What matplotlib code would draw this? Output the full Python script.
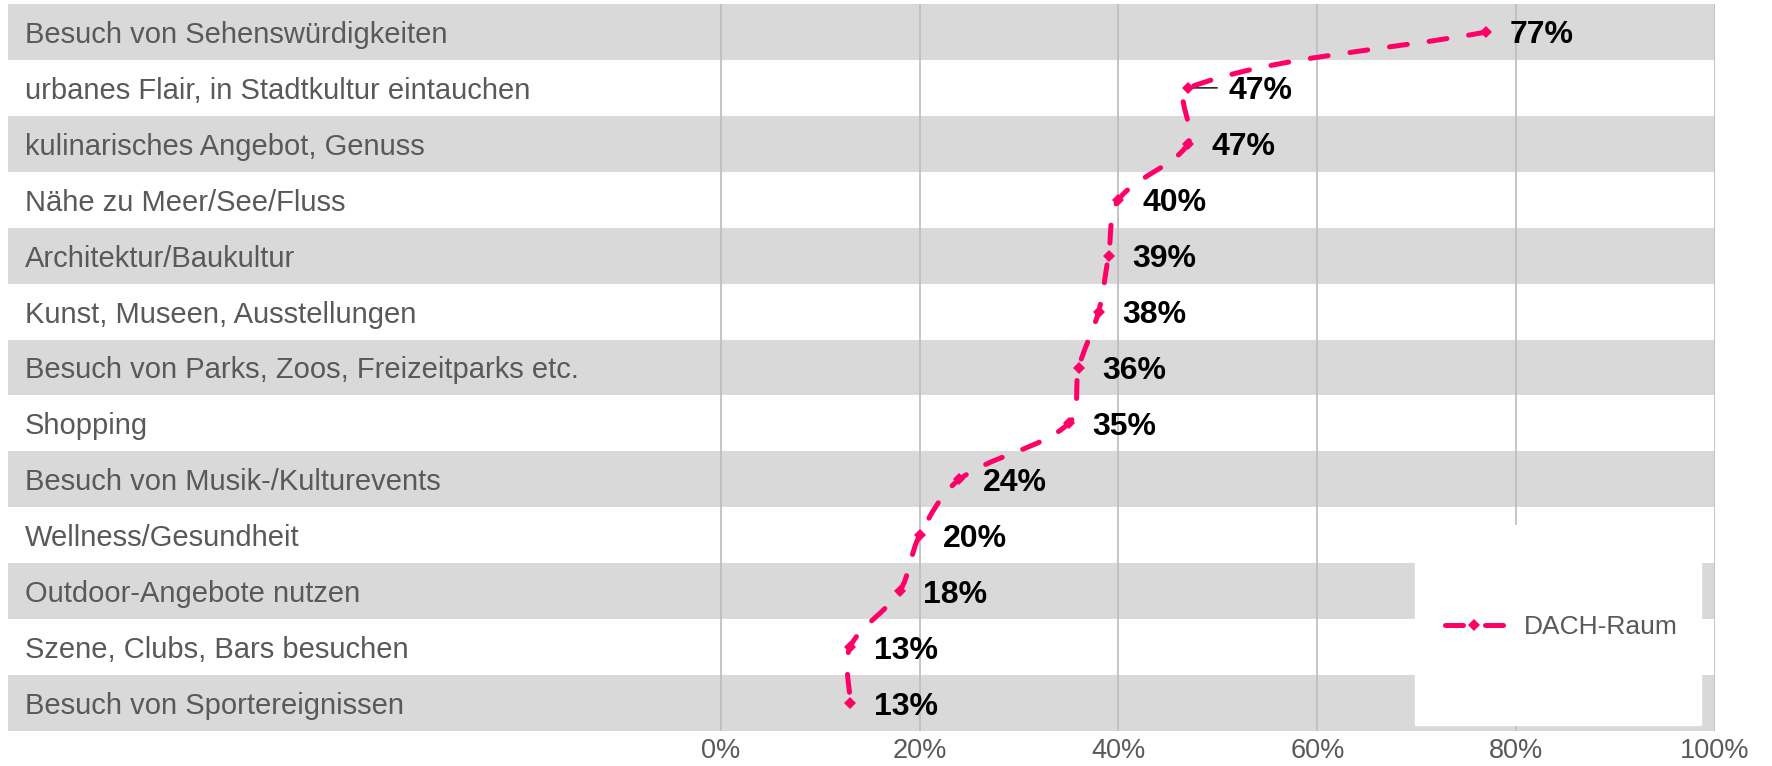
import numpy as np
import matplotlib.pyplot as plt
from matplotlib.path import Path
from matplotlib.patches import PathPatch, Rectangle
from matplotlib.lines import Line2D

kategorien = [
    "Besuch von Sehenswürdigkeiten",
    "urbanes Flair, in Stadtkultur eintauchen",
    "kulinarisches Angebot, Genuss",
    "Nähe zu Meer/See/Fluss",
    "Architektur/Baukultur",
    "Kunst, Museen, Ausstellungen",
    "Besuch von Parks, Zoos, Freizeitparks etc.",
    "Shopping",
    "Besuch von Musik-/Kulturevents",
    "Wellness/Gesundheit",
    "Outdoor-Angebote nutzen",
    "Szene, Clubs, Bars besuchen",
    "Besuch von Sportereignissen",
]
werte = [77, 47, 47, 40, 39, 38, 36, 35, 24, 20, 18, 13, 13]
xticks = [0, 20, 40, 60, 80, 100]
serie = "DACH-Raum"

pink = '#FF0066'
grau_text = '#595959'
plt.rcParams['font.family'] = ['Liberation Sans', 'DejaVu Sans']

fig = plt.figure(figsize=(17.72, 7.66), dpi=100)
ax = fig.add_axes([8/1772, 1 - 731/766, (1715 - 8)/1772, 727/766])
n = len(kategorien)
y = np.arange(n)
links = -71.7
ax.set_xlim(links, 100)
ax.set_ylim(n - 0.5, -0.5)

# graue Streifen
for i in y[::2]:
    ax.barh(i, 100 - links, left=links, height=1, color='#D9D9D9', zorder=0.5)

ax.set_xticks(xticks, [f'{t}%' for t in xticks])
ax.set_yticks([])
ax.grid(axis='x', color='#BFBFBF', lw=1.3)
ax.tick_params(axis='x', length=0, labelsize=19.5, labelcolor=grau_text, pad=5)
for s in ax.spines.values():
    s.set_visible(False)

for i, k in enumerate(kategorien):
    ax.text(-70, i, k, va='center_baseline', ha='left', fontsize=21, color=grau_text)

# geglaettete Linie (wie Excel), Kontrollpunkte im Pixelraum
p = ax.transData.transform(np.column_stack([werte, y]))
verts = [p[0]]
codes = [Path.MOVETO]
m = len(p)
for i in range(m - 1):
    p0 = p[i - 1] if i > 0 else p[i]
    p3 = p[i + 2] if i + 2 < m else p[i + 1]
    d01 = np.hypot(*(p[i] - p0))
    d12 = np.hypot(*(p[i + 1] - p[i]))
    d23 = np.hypot(*(p3 - p[i + 1]))
    c1 = p[i] + (p[i + 1] - p0) / 3 * d12 / (d01 + d12)
    c2 = p[i + 1] - (p3 - p[i]) / 3 * d12 / (d12 + d23)
    verts += [c1, c2, p[i + 1]]
    codes += [Path.CURVE4] * 3
verts = ax.transData.inverted().transform(np.array(verts))
kurve = PathPatch(Path(verts, codes), fill=False, edgecolor=pink, lw=3.6,
                  linestyle=(0, (3.6, 4.4)), capstyle='round', zorder=4)
ax.add_patch(kurve)
ax.plot(werte, y, 'D', ms=6.5, color=pink, mew=0, zorder=4)

for i, v in enumerate(werte):
    dx = 29 if i == 1 else 17
    ax.annotate(f'{v}%', (v, i), xytext=(dx, 0), textcoords='offset points',
                ha='left', va='center_baseline', fontsize=23, fontweight='bold')
# Fuehrungslinie beim verschobenen Label
ax.annotate('', xy=(werte[1], 1), xytext=(21, 0), textcoords='offset points',
            arrowprops=dict(arrowstyle='-', color='black', lw=1, shrinkA=0, shrinkB=2))

# Legende
ax.add_patch(Rectangle((0.824, 0.008), 0.168, 0.275, transform=ax.transAxes,
                       color='white', zorder=3))
h = Line2D([], [], color=pink, lw=3.6, ls=(0, (3.6, 4.4)), dash_capstyle='round',
           marker='D', ms=6.5, mew=0)
ax.legend([h], [serie], loc='center', bbox_to_anchor=(0.91, 0.143), frameon=False,
          fontsize=19, handlelength=2.2, labelcolor=grau_text)

fig.savefig('out.png', dpi=100)
